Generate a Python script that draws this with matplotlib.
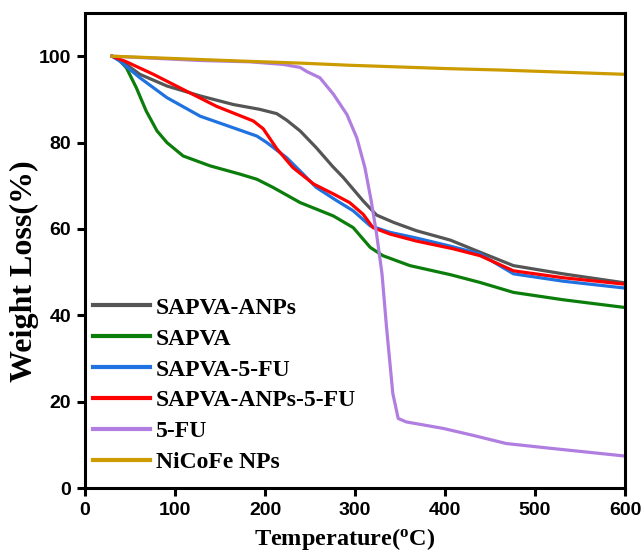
import matplotlib
matplotlib.use("Agg")
import matplotlib.pyplot as plt

# Data (temperature in degC, weight in %)
t_anps = [30, 39, 61, 91, 128, 165, 194, 213, 224, 239, 257, 275, 287, 309, 324, 343, 368, 406, 439, 476, 531, 600]
w_anps = [100, 99.1, 95.8, 93.1, 90.8, 88.8, 87.7, 86.7, 85.2, 82.7, 78.8, 74.5, 71.9, 66.5, 63.2, 61.5, 59.6, 57.4, 54.6, 51.5, 49.6, 47.5]

t_sapva = [30, 36, 46, 57, 68, 80, 91, 109, 139, 172, 191, 209, 239, 276, 298, 317, 331, 361, 406, 439, 476, 531, 600]
w_sapva = [100, 99.6, 97.3, 92.7, 87.3, 82.7, 80.0, 76.9, 74.6, 72.7, 71.5, 69.6, 66.1, 63.0, 60.3, 55.7, 53.8, 51.5, 49.4, 47.6, 45.3, 43.6, 41.8]

t_5fu_s = [30, 39, 61, 91, 128, 165, 191, 202, 224, 239, 257, 280, 298, 317, 339, 368, 406, 439, 476, 531, 600]
w_5fu_s = [100, 98.8, 95.0, 90.4, 86.1, 83.4, 81.5, 80.0, 76.5, 73.4, 69.6, 66.5, 64.2, 60.7, 59.2, 57.9, 56.0, 54.2, 49.6, 47.9, 46.3]

t_anps_5fu = [30, 46, 76, 109, 146, 187, 198, 213, 231, 254, 276, 294, 309, 320, 339, 368, 409, 439, 476, 531, 600]
w_anps_5fu = [100, 98.7, 95.8, 92.3, 88.4, 85.0, 83.2, 78.6, 74.2, 70.4, 68.1, 66.1, 63.4, 60.3, 58.8, 57.2, 55.4, 53.8, 50.3, 48.7, 47.2]

t_5fu = [30, 128, 183, 220, 239, 246, 261, 276, 291, 302, 311, 318, 324, 330, 335, 342, 348, 357, 398, 431, 468, 517, 600]
w_5fu = [100, 99.0, 98.7, 98.1, 97.4, 96.5, 95.0, 91.2, 86.5, 81.1, 74.2, 66.5, 58.8, 49.6, 37.3, 21.9, 16.1, 15.3, 13.8, 12.2, 10.3, 9.2, 7.4]

t_nicofe = [30, 183, 239, 294, 406, 461, 600]
w_nicofe = [100, 98.8, 98.4, 97.9, 97.1, 96.8, 95.8]

series = [
    ("SAPVA-ANPs", t_anps, w_anps, "#555555"),
    ("SAPVA", t_sapva, w_sapva, "#0B7D0B"),
    ("SAPVA-5-FU", t_5fu_s, w_5fu_s, "#1F72E0"),
    ("SAPVA-ANPs-5-FU", t_anps_5fu, w_anps_5fu, "#FF0000"),
    ("5-FU", t_5fu, w_5fu, "#B07EE0"),
    ("NiCoFe NPs", t_nicofe, w_nicofe, "#CC9B00"),
]

fig = plt.figure(figsize=(6.44, 5.56), dpi=100)
ax = fig.add_axes([0.132, 0.1223, 0.8385, 0.8543])

for name, t, w, c in series:
    ax.plot(t, w, color=c, lw=2.3, label=name, solid_joinstyle="round")

ax.set_xlim(0, 600)
ax.set_ylim(0, 110)
ax.set_xticks([0, 100, 200, 300, 400, 500, 600])
ax.set_yticks([0, 20, 40, 60, 80, 100])
for s in ax.spines.values():
    s.set_linewidth(2.2)
ax.tick_params(direction="out", length=6, width=2.2, labelsize=14, pad=4)
for lab in ax.get_xticklabels() + ax.get_yticklabels():
    lab.set_fontfamily("Liberation Sans")
    lab.set_fontweight("bold")

ax.set_xlabel("Temperature($\\mathregular{^o}$C)", fontsize=17.5, fontweight="bold",
              fontfamily="Liberation Serif", va="center", ha="center")
ax.xaxis.set_label_coords(0.4815, -0.107)
ax.set_ylabel("Weight Loss(%)", fontsize=23, fontweight="bold",
              fontfamily="Liberation Serif", va="center", ha="center")
ax.yaxis.set_label_coords(-0.113, 0.457)

leg = ax.legend(loc="upper left", bbox_to_anchor=(0.0148, 0.402), frameon=False,
                prop={"family": "Liberation Serif", "weight": "bold", "size": 17},
                handlelength=2.42, handletextpad=0.25, labelspacing=0.40,
                borderaxespad=0.0, borderpad=0.0)
for line in leg.get_lines():
    line.set_linewidth(3)

fig.savefig("out.png", dpi=100)
